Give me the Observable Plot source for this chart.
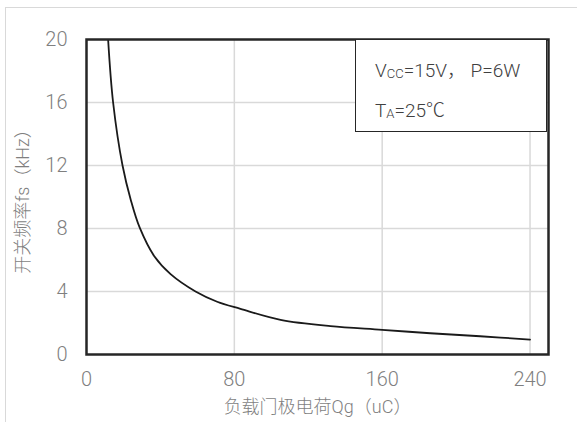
<!DOCTYPE html>
<html>
<head>
<meta charset="utf-8">
<script src="https://cdn.jsdelivr.net/npm/d3@7"></script>
<script src="https://cdn.jsdelivr.net/npm/@observablehq/plot@0.6"></script>
<style>
  html, body { margin: 0; padding: 0; background: #fff; }
  #wrap { position: relative; width: 577px; height: 422px; overflow: hidden; }
  #outer { position: absolute; left: 5px; top: 7px; width: 700px; height: 600px; border: 1px solid #d9d9d9; box-sizing: border-box; }
  #chart { position: absolute; left: 0; top: 0; }
  #legend { position: absolute; left: 355px; top: 39px; width: 192px; height: 93px; box-sizing: border-box;
    border: 1px solid #262626; background: #fff; font-family: Roboto, "Noto Sans CJK SC", sans-serif; font-weight: 300;
    font-size: 19px; color: #404040; }
  #legend div { position: absolute; left: 19px; white-space: nowrap; }
  #legend sub { font-size: 13px; vertical-align: -1px; }
</style>
</head>
<body>
<div id="wrap">
  <div id="outer"></div>
  <div id="chart"></div>
  <div id="legend">
    <div style="top:15px">V<sub>CC</sub>=15V，&nbsp;P=6W</div>
    <div style="top:55px">T<sub>A</sub>=25℃</div>
  </div>
</div>
<script>
// Load gate charge Qg (uC)
const qg = [11.7, 14.4, 19.5, 24, 28.8, 36.9, 45.5, 59, 70.7, 83.3, 105, 132, 160, 186, 213, 240];
// Switching frequency fs (kHz)
const fs = [20, 16, 12, 9.8, 8.05, 6.2, 5.1, 4.0, 3.35, 2.9, 2.2, 1.8, 1.57, 1.35, 1.16, 0.95];
const xTicks = [0, 80, 160, 240];
const yTicks = [0, 4, 8, 12, 16, 20];
const xGrid = [80, 160, 240];
const yGrid = [4, 8, 12, 16];
const xTitle = "负载门极电荷Qg（uC）";
const yTitle = "开关频率fs（kHz）";

const data = qg.map((q, i) => ({q, f: fs[i]}));

const chart = Plot.plot({
  width: 577,
  height: 422,
  marginLeft: 86,
  marginRight: 29,
  marginTop: 39,
  marginBottom: 68,
  style: { fontFamily: "Roboto, 'Noto Sans CJK SC', sans-serif", fontWeight: 300, background: "transparent", overflow: "visible" },
  x: { domain: [0, 250] },
  y: { domain: [0, 20] },
  marks: [
    Plot.ruleX(xGrid, { stroke: "#d9d9d9", strokeWidth: 1.5 }),
    Plot.ruleY(yGrid, { stroke: "#d9d9d9", strokeWidth: 1.5 }),
    Plot.axisX({ ticks: xTicks, tickSize: 0, tickPadding: 17, fontSize: 20, color: "#7f7f7f", label: null }),
    Plot.axisY({ ticks: yTicks, tickSize: 0, tickPadding: 19, fontSize: 20, color: "#7f7f7f", label: null }),
    Plot.line(data, { x: "q", y: "f", curve: "catmull-rom", stroke: "#1a1a1a", strokeWidth: 1.8, clip: true }),
    Plot.frame({ stroke: "#262626", strokeWidth: 2.5 }),
    Plot.text([xTitle], { frameAnchor: "bottom", dy: 58, fontSize: 18, fill: "#7f7f7f" }),
    Plot.text([yTitle], { frameAnchor: "left", dx: -63, rotate: -90, textAnchor: "middle", fontSize: 18, fill: "#7f7f7f" })
  ]
});
document.getElementById("chart").appendChild(chart);
</script>
</body>
</html>
